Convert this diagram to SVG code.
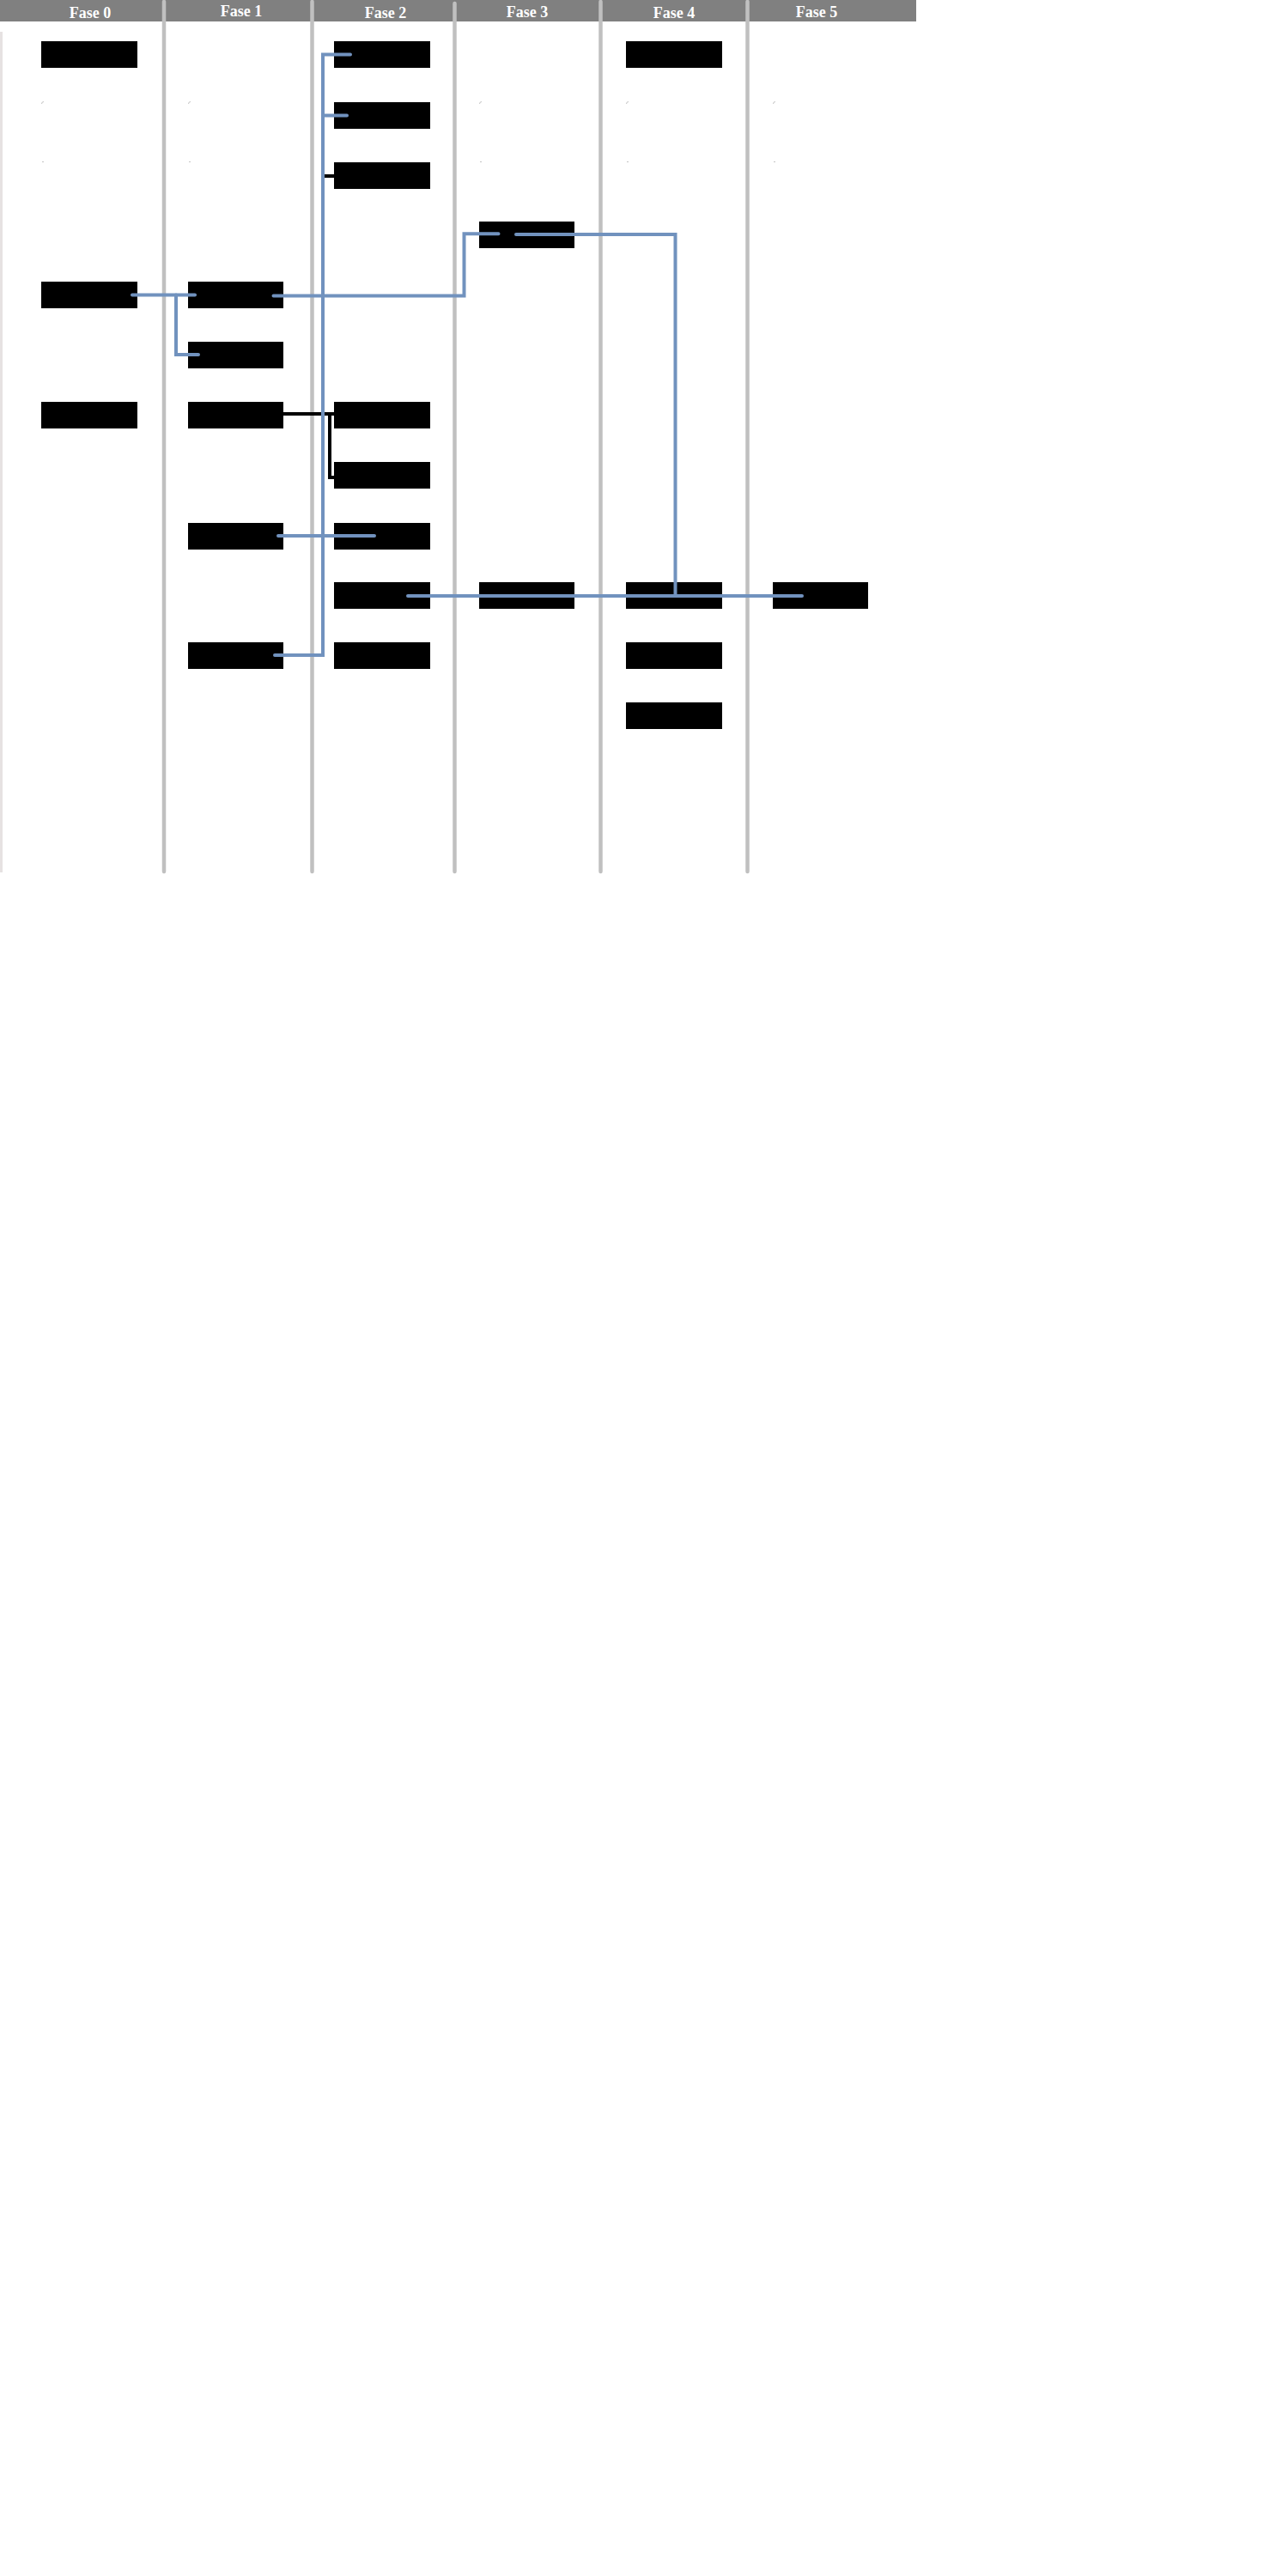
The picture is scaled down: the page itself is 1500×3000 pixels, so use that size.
<svg xmlns="http://www.w3.org/2000/svg" width="1500" height="3000" viewBox="0 0 1500 3000">
<style>
.hdr{fill:#808080}
.sep{stroke:#c0c0c0;stroke-width:4.5;stroke-linecap:round;fill:none}
.sep0{stroke:#e6e2e2;stroke-width:3;fill:none}
.lbl{font-family:"Liberation Serif",serif;font-size:18px;font-weight:bold;fill:#ffffff;text-anchor:middle}
.node rect{fill:#000000}
.blue{stroke:#7192be;stroke-width:4;stroke-linecap:round;stroke-linejoin:miter;fill:none}
.blk{stroke:#000000;stroke-width:4;stroke-linecap:butt;fill:none}
.mark{stroke:#c4c4c4;stroke-width:1;fill:none}
</style>
<rect x="0" y="0" width="1500" height="3000" fill="#ffffff"/>
<g id="header">
<rect class="hdr" x="0" y="0" width="1067" height="25"/>
</g>
<g id="lanes">
<line class="sep0" x1="1.5" y1="37" x2="1.5" y2="1016"/>
<line class="sep" x1="191" y1="2" x2="191" y2="1015"/>
<line class="sep" x1="363.5" y1="2" x2="363.5" y2="1015"/>
<line class="sep" x1="529.5" y1="4" x2="529.5" y2="1015"/>
<line class="sep" x1="699.5" y1="2" x2="699.5" y2="1015"/>
<line class="sep" x1="870.5" y1="2" x2="870.5" y2="1015"/>
</g>
<g id="labels">
<text class="lbl" x="105" y="21">Fase 0</text>
<text class="lbl" x="281" y="18.5">Fase 1</text>
<text class="lbl" x="449" y="20.5">Fase 2</text>
<text class="lbl" x="614" y="20">Fase 3</text>
<text class="lbl" x="785" y="20.5">Fase 4</text>
<text class="lbl" x="951" y="19.5">Fase 5</text>
</g>
<g id="marks">
<path class="mark" d="M51,118.5 Q48.5,118.5 48.5,121"/>
<path class="mark" d="M49,188.5 H51"/>
<path class="mark" d="M222,118.5 Q219.5,118.5 219.5,121"/>
<path class="mark" d="M220,188.5 H222"/>
<path class="mark" d="M561,118.5 Q558.5,118.5 558.5,121"/>
<path class="mark" d="M559,188.5 H561"/>
<path class="mark" d="M732,118.5 Q729.5,118.5 729.5,121"/>
<path class="mark" d="M730,188.5 H732"/>
<path class="mark" d="M903,118.5 Q900.5,118.5 900.5,121"/>
<path class="mark" d="M901,188.5 H903"/>
</g>
<g id="n-0-0" class="node"><rect x="48" y="48" width="112" height="31"/></g>
<g id="n-2-0" class="node"><rect x="389" y="48" width="112" height="31"/></g>
<g id="n-4-0" class="node"><rect x="729" y="48" width="112" height="31"/></g>
<g id="n-2-1" class="node"><rect x="389" y="119" width="112" height="31"/></g>
<g id="n-2-2" class="node"><rect x="389" y="189" width="112" height="31"/></g>
<g id="n-3-3" class="node"><rect x="558" y="258" width="111" height="31"/></g>
<g id="n-0-4" class="node"><rect x="48" y="328" width="112" height="31"/></g>
<g id="n-1-4" class="node"><rect x="219" y="328" width="111" height="31"/></g>
<g id="n-1-5" class="node"><rect x="219" y="398" width="111" height="31"/></g>
<g id="n-0-6" class="node"><rect x="48" y="468" width="112" height="31"/></g>
<g id="n-1-6" class="node"><rect x="219" y="468" width="111" height="31"/></g>
<g id="n-2-6" class="node"><rect x="389" y="468" width="112" height="31"/></g>
<g id="n-2-7" class="node"><rect x="389" y="538" width="112" height="31"/></g>
<g id="n-1-8" class="node"><rect x="219" y="609" width="111" height="31"/></g>
<g id="n-2-8" class="node"><rect x="389" y="609" width="112" height="31"/></g>
<g id="n-2-9" class="node"><rect x="389" y="678" width="112" height="31"/></g>
<g id="n-3-9" class="node"><rect x="558" y="678" width="111" height="31"/></g>
<g id="n-4-9" class="node"><rect x="729" y="678" width="112" height="31"/></g>
<g id="n-5-9" class="node"><rect x="900" y="678" width="111" height="31"/></g>
<g id="n-1-10" class="node"><rect x="219" y="748" width="111" height="31"/></g>
<g id="n-2-10" class="node"><rect x="389" y="748" width="112" height="31"/></g>
<g id="n-4-10" class="node"><rect x="729" y="748" width="112" height="31"/></g>
<g id="n-4-11" class="node"><rect x="729" y="818" width="112" height="31"/></g>
<g id="connectors">
<path class="blk" d="M330,482 H389"/>
<path class="blk" d="M384,482 V556 H389"/>
<path class="blk" d="M376,205 H389"/>
<path class="blue" d="M154,343.5 H227"/>
<path class="blue" d="M205,343.5 V413 H231"/>
<path class="blue" d="M318.5,344.5 H540.5 V272.3 H580.5"/>
<path class="blue" d="M601,273 H786.5 V693"/>
<path class="blue" d="M475,694 H934"/>
<path class="blue" d="M320,763 H376 V63.5 H408"/>
<path class="blue" d="M376,134.5 H404"/>
<path class="blue" d="M324,624 H436"/>
</g>
</svg>
